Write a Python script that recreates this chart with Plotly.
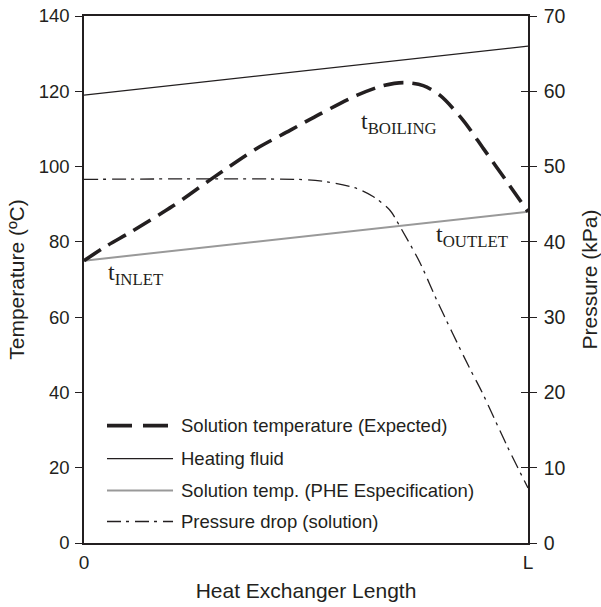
import plotly.graph_objects as go

# ---- data ----
x_sol = [0, 0.052, 0.1036, 0.2, 0.288, 0.389, 0.464, 0.532, 0.614, 0.674, 0.72, 0.764, 0.802, 0.854, 0.9, 0.95, 1.0]
t_sol = [75, 79.0, 82.5, 89.5, 96.8, 104.8, 109.6, 114, 118.9, 121.5, 122.3, 121.5, 118.9, 112.3, 104.7, 96.4, 88]

x_heat = [0, 1]
t_heat = [119, 132]

x_phe = [0, 1]
t_phe = [75, 88]

x_p = [0, 0.5, 0.554, 0.614, 0.652, 0.689, 0.712, 0.757, 0.795, 0.867, 0.896, 0.952, 1.0]
p_drop = [48.3, 48.25, 47.9, 47.1, 46.0, 44.2, 42.0, 37.2, 32.2, 23.4, 20.1, 13.0, 7.3]

x_tickvals = [0, 1]
x_ticktext = ["0", "L"]
y_ticks = [0, 20, 40, 60, 80, 100, 120, 140]
y2_ticks = [0, 10, 20, 30, 40, 50, 60, 70]

legend_names = ["Solution temperature (Expected)", "Heating fluid",
                "Solution temp. (PHE Especification)", "Pressure drop (solution)"]

FONT = "Arial, Liberation Sans, sans-serif"
INK = "#231f20"
DASHDOT = "14px,5px,3px,6px"

fig = go.Figure()
fig.add_trace(go.Scatter(x=x_heat, y=t_heat, mode="lines", line=dict(color=INK, width=1.3),
                         name=legend_names[1], showlegend=False))
fig.add_trace(go.Scatter(x=x_phe, y=t_phe, mode="lines", line=dict(color="#999999", width=2),
                         name=legend_names[2], showlegend=False))
fig.add_trace(go.Scatter(x=x_sol, y=t_sol, mode="lines",
                         line=dict(color=INK, width=3.6, dash="20px,9px", shape="spline", smoothing=0.8),
                         name=legend_names[0], showlegend=False))
fig.add_trace(go.Scatter(x=x_p, y=p_drop, mode="lines", yaxis="y2",
                         line=dict(color=INK, width=1.3, dash=DASHDOT, shape="spline", smoothing=0.8),
                         name=legend_names[3], showlegend=False))
# empty trace that carries the inner tick marks of the right axis
fig.add_trace(go.Scatter(x=[None], y=[None], yaxis="y3", showlegend=False, hoverinfo="skip"))

# manual legend (paper coords)
rows = [0.2227, 0.1602, 0.0995, 0.0408]
styles = [dict(color=INK, width=3.6, dash="25px,11px"),
          dict(color=INK, width=1.3),
          dict(color="#999999", width=2),
          dict(color=INK, width=1.5, dash=DASHDOT)]
x_ends = [0.1892, 0.2005, 0.2005, 0.2005]
for yr, st, xe, nm in zip(rows, styles, x_ends, legend_names):
    fig.add_shape(type="line", xref="paper", yref="paper", x0=0.0518, x1=xe, y0=yr, y1=yr, line=st)
    fig.add_annotation(xref="paper", yref="paper", x=0.214, y=yr, text=nm, showarrow=False,
                       xanchor="left", yanchor="middle", font=dict(family=FONT, size=18.5, color=INK))

serif = dict(family="Liberation Serif, Times New Roman, serif", size=24, color=INK)
fig.add_annotation(x=0.71, y=111.5, text="t<sub>BOILING</sub>", showarrow=False, font=serif)
fig.add_annotation(x=0.873, y=81.5, text="t<sub>OUTLET</sub>", showarrow=False, font=serif)
fig.add_annotation(x=0.117, y=71.4, text="t<sub>INLET</sub>", showarrow=False, font=serif)

fig.update_layout(
    width=601, height=607,
    margin=dict(l=84, r=73, t=16, b=64),
    plot_bgcolor="white", paper_bgcolor="white",
    font=dict(family=FONT, size=18, color=INK),
    showlegend=False,
    xaxis=dict(range=[0, 1], tickvals=x_tickvals, ticktext=x_ticktext,
               ticks="outside", ticklen=1, tickcolor="rgba(0,0,0,0)",
               showline=True, linecolor=INK, linewidth=1.5, mirror=True, showgrid=False, zeroline=False,
               title=dict(text="Heat Exchanger Length", font=dict(size=21), standoff=12),
               tickfont=dict(size=19), automargin=False),
    yaxis=dict(range=[0, 140], tickvals=y_ticks, ticks="outside", ticklen=7, tickcolor=INK,
               showline=True, linecolor=INK, linewidth=1.5, showgrid=False, zeroline=False,
               title=dict(text="Temperature (ºC)", font=dict(size=21), standoff=8),
               tickfont=dict(size=18.5), ticklabelstandoff=2, automargin=False),
    yaxis2=dict(range=[0, 70], tickvals=y2_ticks, ticks="outside", ticklen=7, tickcolor=INK,
                overlaying="y", side="right",
                showline=True, linecolor=INK, linewidth=1.5, showgrid=False, zeroline=False,
                title=dict(text="Pressure (kPa)", font=dict(size=21), standoff=19),
                tickfont=dict(size=19.5), ticklabelstandoff=3, automargin=False),
    yaxis3=dict(range=[0, 70], tickvals=y2_ticks, ticks="inside", ticklen=7, tickcolor=INK,
                overlaying="y", side="right", showticklabels=False,
                showline=False, showgrid=False, zeroline=False, automargin=False),
)

fig.write_html("out.html", config={"displayModeBar": False},
               post_script="document.body.style.margin='0px';")
